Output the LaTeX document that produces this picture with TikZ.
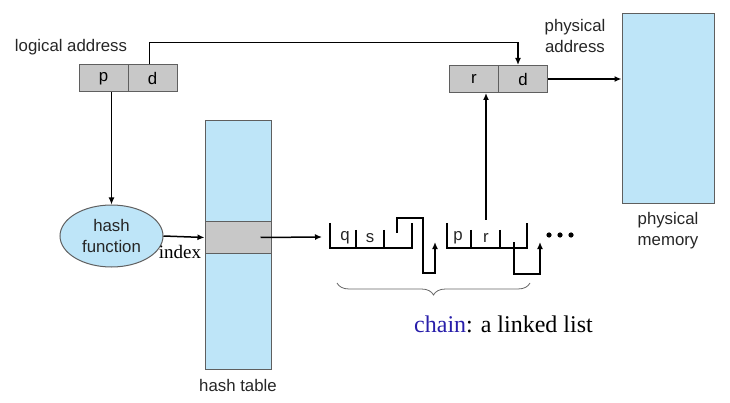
\documentclass[tikz,border=0pt]{standalone}
\usepackage{fontspec}
\setmainfont{Liberation Serif}
\setsansfont{Liberation Sans}
\usepackage{xcolor}
\usetikzlibrary{arrows.meta, shapes.geometric, positioning, calc, decorations.pathreplacing}
\definecolor{tblblue}{RGB}{190,229,248}
\definecolor{cellgray}{RGB}{200,200,200}
\definecolor{edgegray}{RGB}{95,95,95}
\definecolor{chainblue}{RGB}{40,30,170}

\begin{document}
\begin{tikzpicture}[
      x=1pt, y=-1pt,
      lbl/.style={font=\sffamily\fontsize{16.8}{21}\selectfont, text=black!85, align=center, inner sep=0},
      cell/.style={draw=edgegray, fill=cellgray, line width=1pt, minimum width=49pt,
                   minimum height=27pt, inner sep=0, font=\sffamily\fontsize{16.8}{19}\selectfont},
      mem/.style={draw=edgegray, fill=tblblue, line width=1pt, inner sep=0},
      wire/.style={line width=1.5pt},
      arr/.style={wire, -{Latex[length=7pt, width=6pt]}},
    ]
    \useasboundingbox (0,0) rectangle (730,403);

    % ---- logical address ----
    \node[lbl] (logl) at (71,47) {logical address};
    \node[cell] (pcell) at (103.5,78.5) {p};
    \node[cell] (dcell) at (152.5,78.5) {d};

    % ---- physical address ----
    \node[lbl] (physl) at (575,36) {physical\\address};
    \node[cell] (rcell) at (474,79) {r};
    \node[cell] (pdcell) at (523,79) {d};

    % ---- physical memory ----
    \node[mem, minimum width=92pt, minimum height=190pt] (memory) at (668,109) {};
    \node[lbl] (meml) at (668,231) {physical\\memory};

    % ---- hash function and hash table ----
    \node[mem, ellipse, minimum width=103pt, minimum height=62pt, lbl, text=black!85]
      (hashfn) at (111.5,236) {hash\\function};
    \node[mem, minimum width=66pt, minimum height=248pt] (table) at (238,245) {};
    \node[mem, fill=cellgray, minimum width=66pt, minimum height=31pt] (band) at (238,237.5) {};
    \node[lbl] (tablel) at (238,385) {hash table};

    % ---- chain: two entries ----
    \draw[wire] (330,223) |- (412,248) -- (412,223);
    \draw[wire] (356,230) -- (356,248) (384,230) -- (384,248);
    \node[lbl] (qlbl) at (345,238) {q};
    \node[lbl] (slbl) at (370,238) {s};
    \draw[arr] (397,233) -- (397,218) -| (423,273) -| (435,242);

    \draw[wire] (447,223) |- (527,248) -- (527,223);
    \draw[wire] (471,230) -- (471,248) (500,230) -- (500,248);
    \node[lbl] (plbl) at (458,238) {p};
    \node[lbl] (rlbl) at (486,238) {r};
    \draw[arr] (514,242) |- (540,274) -- (540,242);
    \coordinate (rptr) at (486,220);
    \coordinate (chainin) at (322,237);

    \foreach \x in {549,560,571} {
      \fill (\x,235) circle (2.6pt);
    }

    % brace
    \draw[black!60, line width=0.8pt, decorate, decoration={brace, mirror, amplitude=12pt}]
      (337,283) -- (530,283);
    \node[font=\fontsize{24}{28}\selectfont, anchor=base, inner sep=0] (chainl) at (503.5,332)
      {\textcolor{chainblue}{chain}: a linked list};

    % ---- connectors ----
    \draw[arr] (hashfn.north |- pcell.south) -- (hashfn.north);
    \draw[arr] ($(dcell.north)+(-3,0)$) -- ++(0,-22) -| ($(pdcell.north)+(-5,0)$);
    \draw[arr] (pdcell.east) -- (memory.west |- pdcell.east);
    \draw[arr] (hashfn.east) -- (band.west);
    \node[font=\fontsize{19}{22}\selectfont, inner sep=0] (idx) at (180,252) {index};
    \draw[arr] ($(band.east)+(-11,0)$) -- (chainin);
    \draw[arr] (rptr) -- (rptr |- rcell.south);

  \end{tikzpicture}
\end{document}
